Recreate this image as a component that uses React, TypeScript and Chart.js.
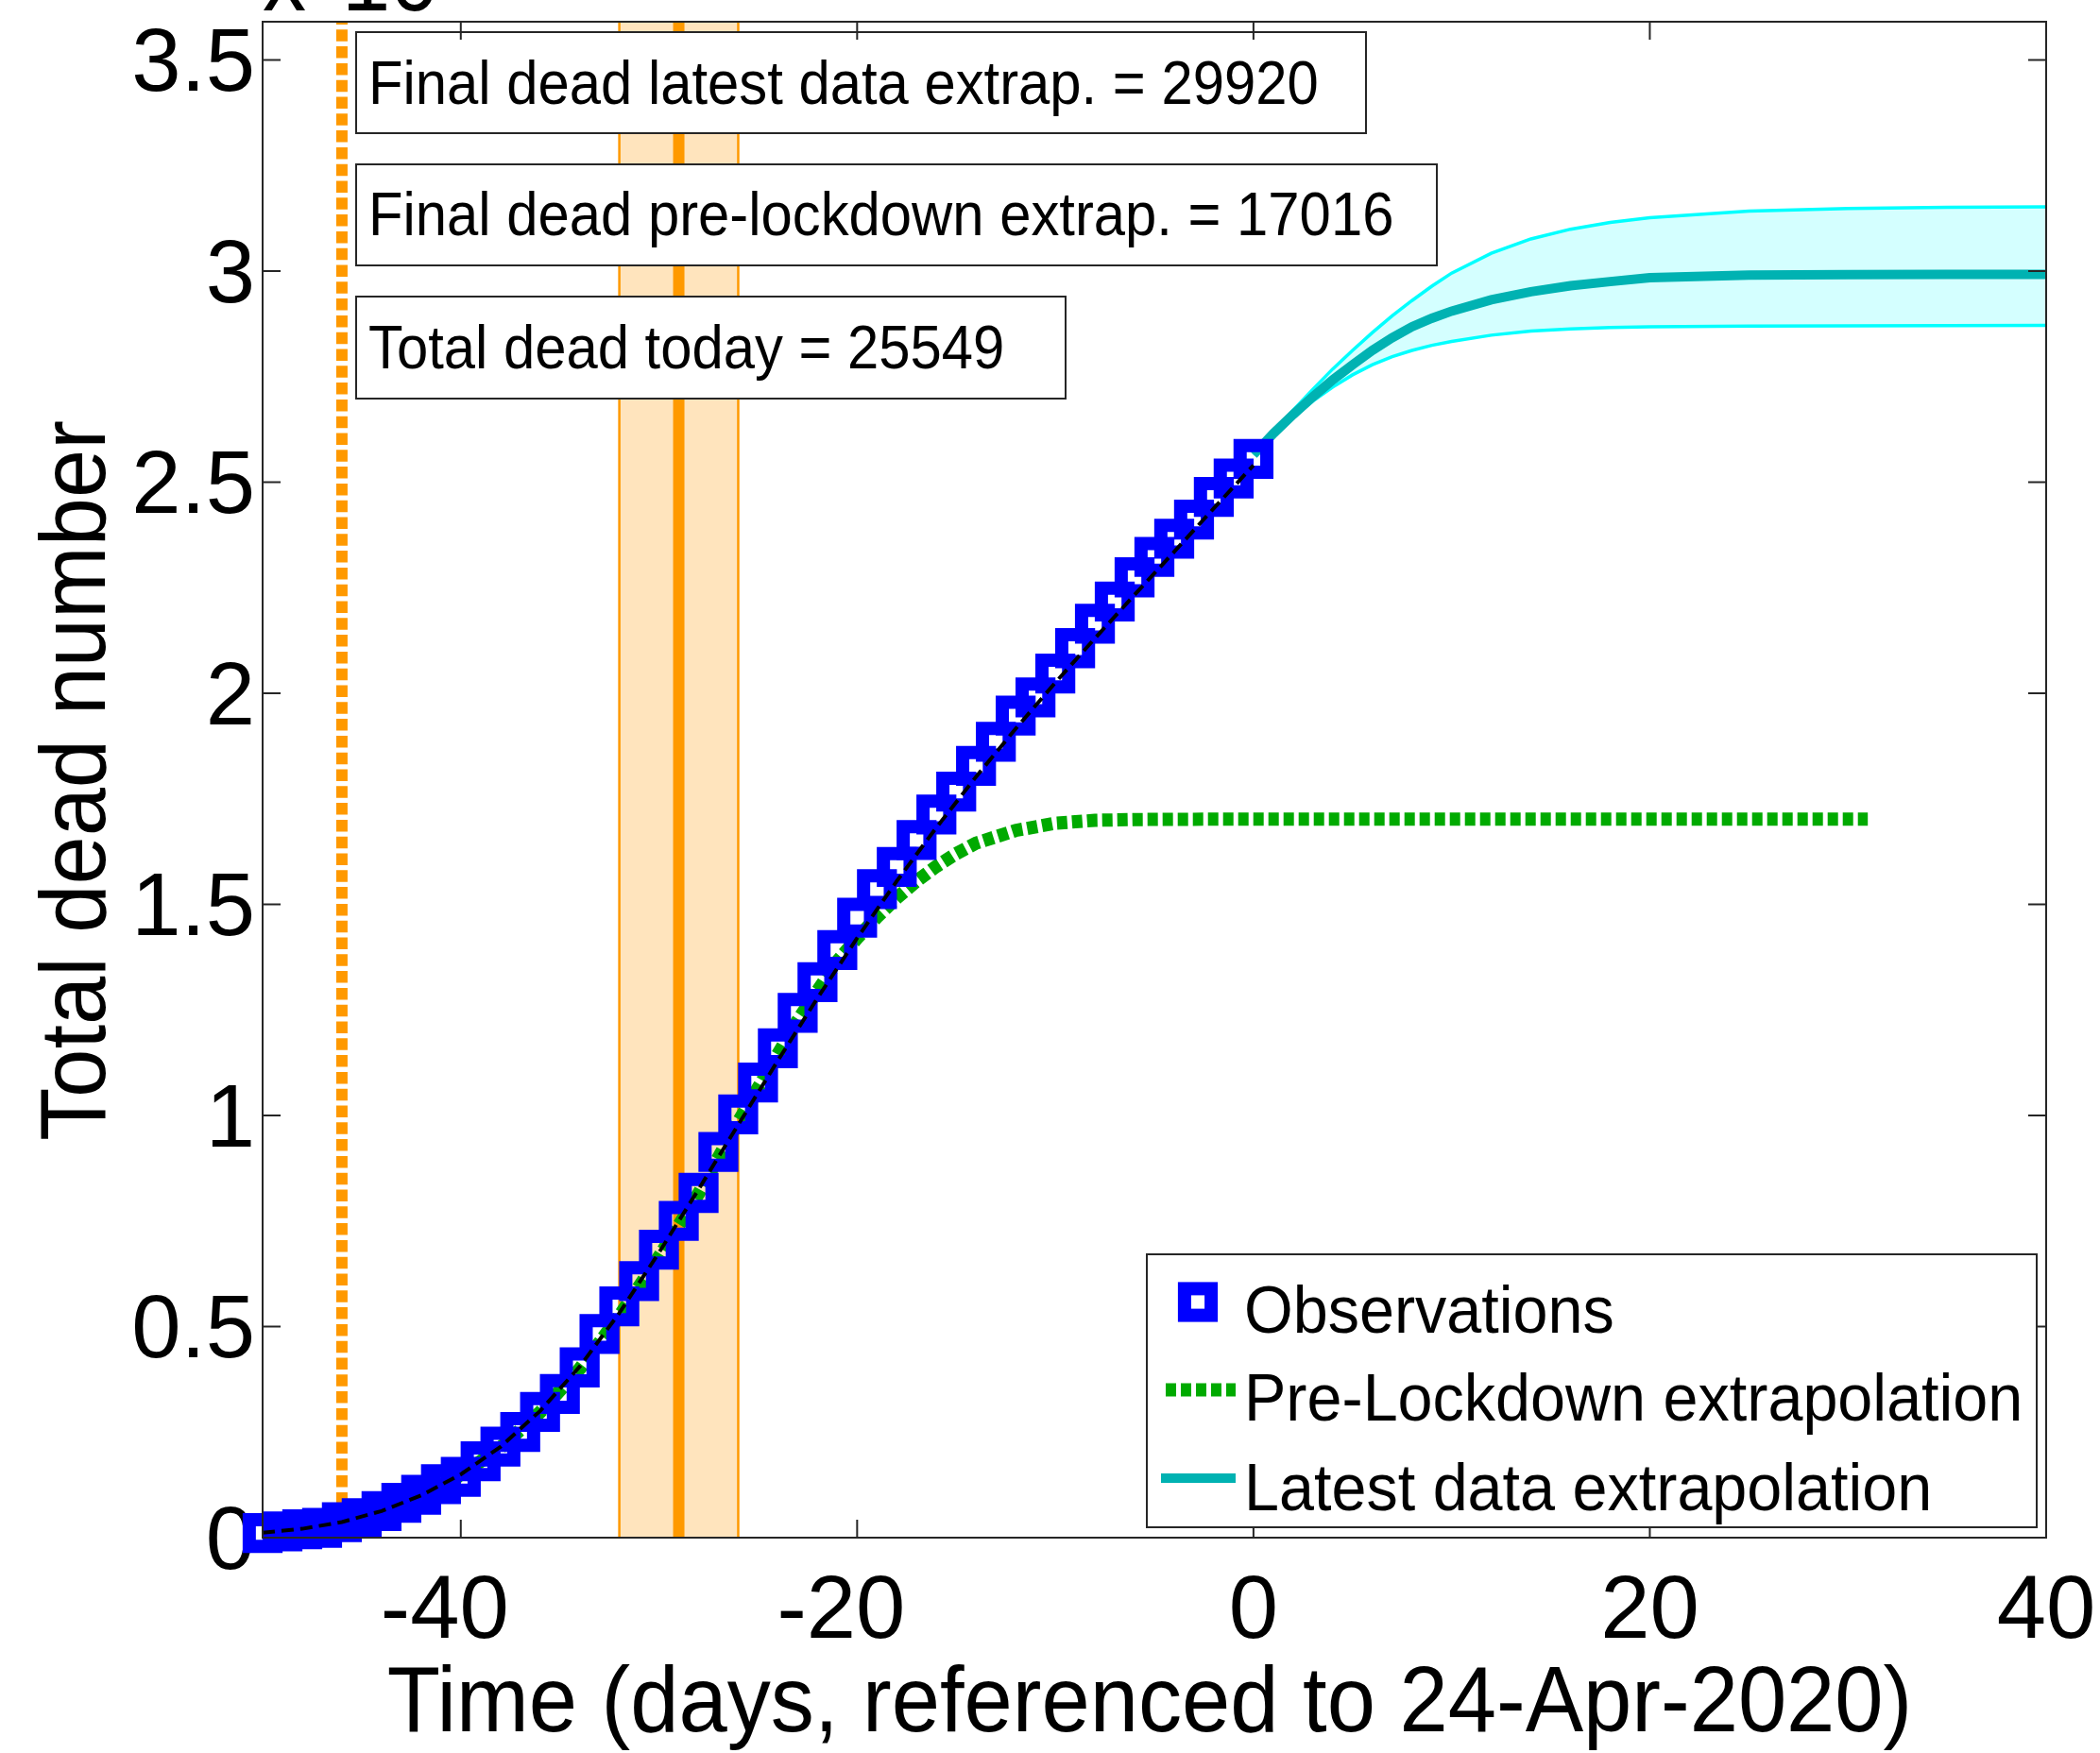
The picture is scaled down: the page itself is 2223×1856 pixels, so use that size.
import React, { useEffect, useRef } from 'react';
import { Chart, registerables } from 'chart.js';

Chart.register(...registerables);

const FONT = "'Liberation Sans', Arial, Helvetica, sans-serif";

// ---- axis ranges and ticks ----
const X_MIN = -50;
const X_MAX = 40;
const Y_MAX = 35904;
const xTickValues = [-40, -20, 0, 20, 40];
const yTickValues = [0, 5000, 10000, 15000, 20000, 25000, 30000, 35000];
const yTickLabels = ['0', '0.5', '1', '1.5', '2', '2.5', '3', '3.5'];

// ---- observations: total dead per day (day 0 = 24-Apr-2020) ----
const obsDays = [
  -50, -49, -48, -47, -46, -45, -44, -43, -42, -41, -40, -39, -38, -37, -36, -35, -34,
  -33, -32, -31, -30, -29, -28, -27, -26, -25, -24, -23, -22, -21, -20, -19, -18, -17,
  -16, -15, -14, -13, -12, -11, -10, -9, -8, -7, -6, -5, -4, -3, -2, -1, 0,
];
const obsDeaths = [
  107, 148, 197, 233, 366, 463, 631, 827, 1016, 1266, 1441, 1809, 2158, 2503, 2978, 3405, 4032,
  4825, 5476, 6077, 6820, 7503, 8165, 9134, 10023, 10779, 11591, 12428, 13155, 13915, 14681, 15362, 15887, 16523,
  17127, 17669, 18279, 18849, 19468, 19899, 20465, 21067, 21645, 22170, 22745, 23227, 23660, 24114, 24648, 25085, 25549,
];

// ---- model fit through the observations (black dashed) ----
const fitDays = [-50, -48, -46, -44, -42, -40, -38, -36, -34, -32, -30, -28, -26, -24, -22, -20, -18, -16, -14, -12, -10, -8, -6, -4, -2, 0];
const fitDeaths = [120, 210, 370, 630, 1000, 1500, 2150, 3000, 4050, 5320, 6750, 8250, 9780, 11300, 12780, 14200, 15550, 16820, 18020, 19160, 20250, 21300, 22330, 23350, 24380, 25400];

// ---- pre-lockdown extrapolation (green dotted) ----
const preDays = [-50, -48, -46, -44, -42, -40, -38, -36, -34, -32, -30, -28, -26, -24, -23, -22, -21, -20, -19, -18, -17, -16, -15, -14, -12, -10, -8, -6, -4, -2, 0, 5, 10, 15, 20, 25, 31];
const preDeaths = [110, 200, 360, 620, 990, 1480, 2130, 2970, 4000, 5250, 6650, 8150, 9850, 11450, 12250, 12950, 13650, 14200, 14700, 15150, 15550, 15900, 16200, 16450, 16750, 16920, 16990, 17008, 17014, 17016, 17016, 17016, 17016, 17016, 17016, 17016, 17016];

// ---- latest data extrapolation (cyan) with its band ----
const extDays = [0, 1, 2, 3, 4, 5, 6, 7, 8, 9, 10, 12, 14, 16, 18, 20, 25, 30, 35, 40];
const extMid = [25650, 26150, 26600, 27020, 27420, 27780, 28120, 28420, 28680, 28880, 29050, 29320, 29510, 29650, 29750, 29840, 29905, 29915, 29920, 29920];
const extHigh = [25650, 26180, 26700, 27200, 27680, 28120, 28540, 28940, 29300, 29640, 29950, 30420, 30760, 30990, 31150, 31260, 31420, 31480, 31510, 31520];
const extLow = [25650, 26120, 26540, 26920, 27250, 27540, 27780, 27970, 28120, 28240, 28330, 28480, 28580, 28630, 28660, 28680, 28695, 28700, 28705, 28710];

// ---- vertical markers ----
const lockdownDay = -46;
const bandDays = [-32, -26];
const bandCenterDay = -29;

// ---- texts ----
const infoTexts = [
  'Final dead latest data extrap. = 29920',
  'Final dead pre-lockdown extrap. = 17016',
  'Total dead today = 25549',
];
const legendLabels = ['Observations', 'Pre-Lockdown extrapolation', 'Latest data extrapolation'];
const xTitle = 'Time (days, referenced to 24-Apr-2020)';
const yTitle = 'Total dead number';
const scaleNote = ['x', '10', '4'];

const ORANGE = 'rgb(255,153,0)';
const ORANGE_LIGHT = 'rgb(255,228,189)';
const GREEN = 'rgb(0,170,0)';
const BLUE = 'rgb(0,0,255)';
const CYAN_DARK = 'rgb(0,178,178)';
const CYAN = 'rgb(0,255,255)';
const CYAN_LIGHT = 'rgb(212,255,255)';
const AXIS = '#262626';

const pts = (xs: number[], ys: number[]) => xs.map((x, i) => ({ x, y: ys[i] }));

function drawText(
  ctx: CanvasRenderingContext2D,
  text: string,
  x: number,
  y: number,
  size: number,
  sx: number,
  align: CanvasTextAlign,
  rotate = 0,
) {
  ctx.save();
  ctx.translate(x, y);
  if (rotate) ctx.rotate(rotate);
  ctx.scale(sx, 1);
  ctx.font = `${size}px ${FONT}`;
  ctx.textAlign = align;
  ctx.textBaseline = 'alphabetic';
  ctx.fillStyle = '#000';
  ctx.fillText(text, 0, 0);
  ctx.restore();
}

const INFO_BOXES = [
  { x: 377, y: 34, w: 1069, h: 107, ty: 110 },
  { x: 377, y: 174, w: 1144, h: 107, ty: 248.5 },
  { x: 377, y: 314, w: 751, h: 108, ty: 389.5 },
];

const decorPlugin = {
  id: 'decor',
  afterDatasetsDraw(chart: any) {
    const { ctx, chartArea: a, scales } = chart;
    const xs = scales.x;
    const ys = scales.y;
    ctx.save();

    // info boxes
    INFO_BOXES.forEach((b, i) => {
      ctx.fillStyle = '#fff';
      ctx.fillRect(b.x, b.y, b.w, b.h);
      ctx.strokeStyle = AXIS;
      ctx.lineWidth = 2;
      ctx.strokeRect(b.x, b.y, b.w, b.h);
      drawText(ctx, infoTexts[i], 390, b.ty, 65, 0.92, 'left');
    });

    // axes box and inward ticks
    ctx.strokeStyle = AXIS;
    ctx.lineWidth = 2;
    ctx.setLineDash([]);
    ctx.strokeRect(a.left, a.top, a.right - a.left, a.bottom - a.top);
    const TL = 19;
    ctx.beginPath();
    xs.ticks.forEach((t: any) => {
      const px = xs.getPixelForValue(t.value);
      ctx.moveTo(px, a.bottom);
      ctx.lineTo(px, a.bottom - TL);
      ctx.moveTo(px, a.top);
      ctx.lineTo(px, a.top + TL);
    });
    ys.ticks.forEach((t: any) => {
      const py = ys.getPixelForValue(t.value);
      ctx.moveTo(a.left, py);
      ctx.lineTo(a.left + TL, py);
      ctx.moveTo(a.right, py);
      ctx.lineTo(a.right - TL, py);
    });
    ctx.stroke();

    // legend
    const L = { x: 1214, y: 1328, w: 942, h: 289 };
    ctx.fillStyle = '#fff';
    ctx.fillRect(L.x, L.y, L.w, L.h);
    ctx.strokeStyle = AXIS;
    ctx.lineWidth = 2;
    ctx.strokeRect(L.x, L.y, L.w, L.h);
    // observations marker
    ctx.strokeStyle = BLUE;
    ctx.lineWidth = 14;
    ctx.strokeRect(1268 - 14.1, 1378.5 - 14.1, 28.2, 28.2);
    // green dotted sample
    ctx.strokeStyle = GREEN;
    ctx.lineWidth = 14;
    ctx.setLineDash([11, 5]);
    ctx.beginPath();
    ctx.moveTo(1234, 1471.5);
    ctx.lineTo(1308, 1471.5);
    ctx.stroke();
    ctx.setLineDash([]);
    // cyan sample
    ctx.strokeStyle = CYAN_DARK;
    ctx.lineWidth = 10;
    ctx.beginPath();
    ctx.moveTo(1229, 1565);
    ctx.lineTo(1308, 1565);
    ctx.stroke();
    const legendBase = [1410.5, 1503.5, 1598.5];
    legendLabels.forEach((t, i) => drawText(ctx, t, 1317, legendBase[i], 70, 0.95, 'left'));

    // axis titles
    drawText(ctx, xTitle, 1217, 1833, 98, 0.94, 'center');
    drawText(ctx, yTitle, 111, 826.5, 99, 0.93, 'center', -Math.PI / 2);

    // exponent note (mostly cut off at the top)
    drawText(ctx, scaleNote[0], 278, 11, 99, 0.93, 'left');
    drawText(ctx, scaleNote[1], 362, 11, 99, 0.93, 'left');
    drawText(ctx, scaleNote[2], 446, -40, 66, 0.93, 'left');

    ctx.restore();
  },
};

export default function App() {
  const ref = useRef<HTMLCanvasElement | null>(null);

  useEffect(() => {
    if (!ref.current) return;
    Chart.defaults.font.family = FONT;
    const line = (extra: any) => ({
      pointRadius: 0,
      pointHoverRadius: 0,
      fill: false,
      tension: 0,
      ...extra,
    });
    const chart = new Chart(ref.current, {
      type: 'line',
      data: {
        datasets: [
          line({
            label: 'band',
            data: [
              { x: bandDays[0], y: Y_MAX },
              { x: bandDays[1], y: Y_MAX },
            ],
            borderWidth: 0,
            borderColor: 'rgba(0,0,0,0)',
            backgroundColor: ORANGE_LIGHT,
            fill: 'origin',
            order: 30,
          }),
          line({
            label: 'band-left',
            data: [
              { x: bandDays[0], y: 0 },
              { x: bandDays[0], y: Y_MAX },
            ],
            borderColor: ORANGE,
            borderWidth: 2.5,
            order: 29,
          }),
          line({
            label: 'band-right',
            data: [
              { x: bandDays[1], y: 0 },
              { x: bandDays[1], y: Y_MAX },
            ],
            borderColor: ORANGE,
            borderWidth: 2.5,
            order: 28,
          }),
          line({
            label: 'band-center',
            data: [
              { x: bandCenterDay, y: 0 },
              { x: bandCenterDay, y: Y_MAX },
            ],
            borderColor: ORANGE,
            borderWidth: 12,
            order: 27,
          }),
          line({
            label: 'lockdown',
            data: [
              { x: lockdownDay, y: 0 },
              { x: lockdownDay, y: Y_MAX },
            ],
            borderColor: ORANGE,
            borderWidth: 12,
            borderDash: [12.5, 5.3],
            borderCapStyle: 'butt',
            order: 26,
          }),
          line({
            label: 'ext-high',
            data: pts(extDays, extHigh),
            borderColor: CYAN,
            borderWidth: 3.5,
            backgroundColor: CYAN_LIGHT,
            fill: '+1',
            order: 25,
          }),
          line({
            label: 'ext-low',
            data: pts(extDays, extLow),
            borderColor: CYAN,
            borderWidth: 3.5,
            order: 24,
          }),
          line({
            label: legendLabels[2],
            data: pts(extDays, extMid),
            borderColor: CYAN_DARK,
            borderWidth: 10,
            order: 23,
          }),
          line({
            label: legendLabels[1],
            data: pts(preDays, preDeaths),
            borderColor: GREEN,
            borderWidth: 14,
            borderDash: [11, 5],
            borderCapStyle: 'butt',
            order: 22,
          }),
          {
            label: legendLabels[0],
            data: pts(obsDays, obsDeaths),
            showLine: false,
            pointStyle: 'rect',
            pointRadius: 20,
            pointHoverRadius: 20,
            pointBorderWidth: 14,
            pointBorderColor: BLUE,
            pointBackgroundColor: 'rgba(0,0,0,0)',
            clip: false,
            order: 2,
          },
          line({
            label: 'fit',
            data: pts(fitDays, fitDeaths),
            borderColor: '#000',
            borderWidth: 4,
            borderDash: [13, 7],
            order: 1,
          }),
        ],
      },
      options: {
        responsive: false,
        animation: false,
        devicePixelRatio: 1,
        events: [],
        layout: { autoPadding: false, padding: { top: 23, right: 57, left: 0, bottom: 0 } },
        plugins: {
          legend: { display: false },
          tooltip: { enabled: false },
        },
        scales: {
          x: {
            type: 'linear',
            min: X_MIN,
            max: X_MAX,
            grid: { display: false, drawTicks: false },
            border: { display: false },
            afterBuildTicks: (s: any) => {
              s.ticks = xTickValues.map((v) => ({ value: v }));
            },
            afterFit: (s: any) => {
              s.height = 228;
              s.paddingLeft = 0;
              s.paddingRight = 0;
            },
            ticks: {
              autoSkip: false,
              maxRotation: 0,
              minRotation: 0,
              padding: 24,
              color: '#000',
              font: { family: FONT, size: 94 },
              callback: (v: any) => (Number(v) < 0 ? `${v} \u200A` : `${v}`),
            },
          },
          y: {
            type: 'linear',
            min: 0,
            max: Y_MAX,
            grid: { display: false, drawTicks: false },
            border: { display: false },
            afterBuildTicks: (s: any) => {
              s.ticks = yTickValues.map((v) => ({ value: v }));
            },
            afterFit: (s: any) => {
              s.width = 278;
              s.paddingTop = 0;
              s.paddingBottom = 0;
            },
            ticks: {
              autoSkip: false,
              padding: 8,
              labelOffset: 7,
              color: '#000',
              font: { family: FONT, size: 94 },
              callback: (v: any) => {
                const i = yTickValues.indexOf(Number(v));
                return i >= 0 ? yTickLabels[i] : '';
              },
            },
          },
        },
      },
      plugins: [decorPlugin],
    } as any);
    return () => chart.destroy();
  }, []);

  return (
    <div style={{ position: 'absolute', left: 0, top: 0, width: 2223, height: 1856, background: '#fff' }}>
      <canvas ref={ref} width={2223} height={1856} style={{ display: 'block', width: 2223, height: 1856 }} />
    </div>
  );
}
